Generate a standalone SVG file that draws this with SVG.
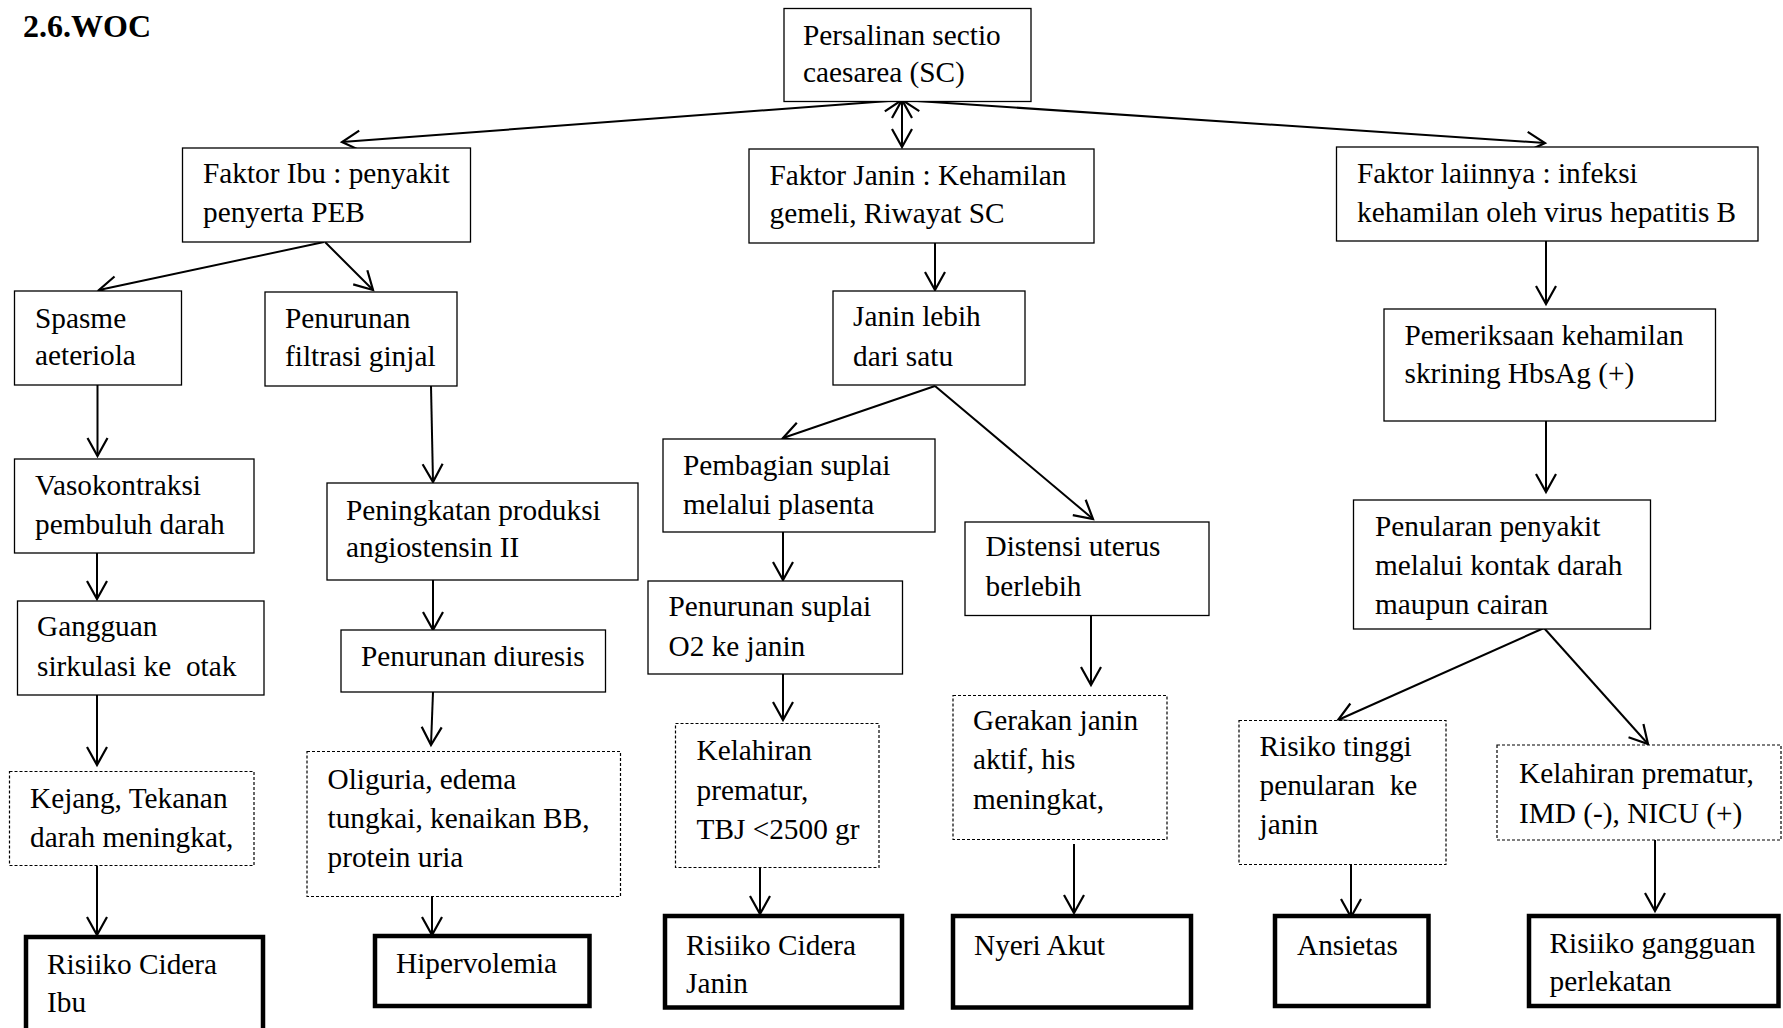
<svg xmlns="http://www.w3.org/2000/svg" width="1783" height="1028" viewBox="0 0 1783 1028">
<style>
text{font-family:"Liberation Serif","Times New Roman",serif;font-size:29.3px;fill:#000;white-space:pre}
.title{font-weight:bold;font-size:32px}
.box{fill:#fff;stroke:#000;stroke-width:1.3}
.dash{fill:#fff;stroke:#000;stroke-width:1.2;stroke-dasharray:3 2}
.thick{fill:#fff;stroke:#000;stroke-width:4.5}
.c{fill:none;stroke:#000;stroke-width:2}
</style>
<defs>
<marker id="ah" markerUnits="userSpaceOnUse" markerWidth="24" markerHeight="24" viewBox="-20 -12 24 24" refX="0" refY="0" orient="auto-start-reverse">
<path d="M-18,-10 L0,0 L-18,10" fill="none" stroke="#000" stroke-width="2.2"/>
</marker>
</defs>
<rect width="1783" height="1028" fill="#fff"/>
<text class="title" x="23" y="37">2.6.WOC</text>

<g id="connectors">
<line class="c" x1="902" y1="100" x2="342" y2="142" marker-start="url(#ah)" marker-end="url(#ah)"/>
<line class="c" x1="902" y1="100" x2="1545" y2="143" marker-start="url(#ah)" marker-end="url(#ah)"/>
<line class="c" x1="902" y1="100" x2="902" y2="147" marker-start="url(#ah)" marker-end="url(#ah)"/>
<line class="c" x1="324" y1="242" x2="99" y2="290" marker-end="url(#ah)"/>
<line class="c" x1="325" y1="242" x2="373" y2="290" marker-end="url(#ah)"/>
<line class="c" x1="935" y1="235" x2="935" y2="290" marker-end="url(#ah)"/>
<line class="c" x1="1546" y1="233" x2="1546" y2="304" marker-end="url(#ah)"/>
<line class="c" x1="97.5" y1="385" x2="97.5" y2="456" marker-end="url(#ah)"/>
<line class="c" x1="431" y1="386" x2="433" y2="482" marker-end="url(#ah)"/>
<line class="c" x1="935" y1="386" x2="783" y2="438" marker-end="url(#ah)"/>
<line class="c" x1="935" y1="386" x2="1093" y2="519" marker-end="url(#ah)"/>
<line class="c" x1="1546" y1="421" x2="1546" y2="492" marker-end="url(#ah)"/>
<line class="c" x1="97" y1="553" x2="97" y2="599" marker-end="url(#ah)"/>
<line class="c" x1="433" y1="571" x2="433" y2="630" marker-end="url(#ah)"/>
<line class="c" x1="783" y1="532" x2="783" y2="580" marker-end="url(#ah)"/>
<line class="c" x1="1544" y1="628" x2="1338" y2="720" marker-end="url(#ah)"/>
<line class="c" x1="1544" y1="628" x2="1648" y2="744" marker-end="url(#ah)"/>
<line class="c" x1="97" y1="695" x2="97" y2="765" marker-end="url(#ah)"/>
<line class="c" x1="433" y1="692" x2="431" y2="745" marker-end="url(#ah)"/>
<line class="c" x1="783" y1="672" x2="783" y2="720" marker-end="url(#ah)"/>
<line class="c" x1="1091" y1="614" x2="1091" y2="685" marker-end="url(#ah)"/>
<line class="c" x1="97" y1="866" x2="97" y2="935" marker-end="url(#ah)"/>
<line class="c" x1="432" y1="895" x2="432" y2="935" marker-end="url(#ah)"/>
<line class="c" x1="760" y1="865" x2="760" y2="914" marker-end="url(#ah)"/>
<line class="c" x1="1074" y1="844" x2="1074" y2="913" marker-end="url(#ah)"/>
<line class="c" x1="1351" y1="864" x2="1351" y2="917" marker-end="url(#ah)"/>
<line class="c" x1="1655" y1="840" x2="1655" y2="911" marker-end="url(#ah)"/>
</g>

<g id="persalinan"><rect class="box" x="784" y="8.5" width="247" height="93"/><text x="803" y="45">Persalinan sectio</text><text x="803" y="82">caesarea (SC)</text></g>
<g id="faktor-ibu"><rect class="box" x="182.5" y="148" width="288" height="94"/><text x="203" y="183">Faktor Ibu : penyakit</text><text x="203" y="222">penyerta PEB</text></g>
<g id="faktor-janin"><rect class="box" x="749" y="149" width="345" height="94"/><text x="769.5" y="185">Faktor Janin : Kehamilan</text><text x="769.5" y="223">gemeli, Riwayat SC</text></g>
<g id="faktor-lain"><rect class="box" x="1336.5" y="147" width="421.5" height="94"/><text x="1357" y="183">Faktor laiinnya : infeksi</text><text x="1357" y="222">kehamilan oleh virus hepatitis B</text></g>
<g id="spasme"><rect class="box" x="14.5" y="291" width="167" height="94"/><text x="35" y="328">Spasme</text><text x="35" y="365">aeteriola</text></g>
<g id="filtrasi"><rect class="box" x="265" y="292" width="192" height="94"/><text x="285" y="328">Penurunan</text><text x="285" y="366">filtrasi ginjal</text></g>
<g id="janin-lebih"><rect class="box" x="833" y="291" width="192" height="94"/><text x="853" y="326">Janin lebih</text><text x="853" y="366">dari satu</text></g>
<g id="pemeriksaan"><rect class="box" x="1384" y="309" width="331.5" height="112"/><text x="1404.5" y="345">Pemeriksaan kehamilan</text><text x="1404.5" y="383">skrining HbsAg (+)</text></g>
<g id="vasokontraksi"><rect class="box" x="14.5" y="459" width="239.5" height="94"/><text x="35" y="495">Vasokontraksi</text><text x="35" y="534">pembuluh darah</text></g>
<g id="peningkatan"><rect class="box" x="327" y="483" width="311" height="97"/><text x="346" y="520">Peningkatan produksi</text><text x="346" y="557">angiostensin II</text></g>
<g id="pembagian"><rect class="box" x="663" y="439" width="272" height="93"/><text x="683" y="475">Pembagian suplai</text><text x="683" y="514">melalui plasenta</text></g>
<g id="distensi"><rect class="box" x="965" y="522" width="244" height="93.5"/><text x="985.5" y="556">Distensi uterus</text><text x="985.5" y="596">berlebih</text></g>
<g id="penularan"><rect class="box" x="1353.5" y="500" width="297" height="129"/><text x="1375" y="536">Penularan penyakit</text><text x="1375" y="575">melalui kontak darah</text><text x="1375" y="614">maupun cairan</text></g>
<g id="suplai-o2"><rect class="box" x="648" y="581" width="254.5" height="93"/><text x="668.5" y="616">Penurunan suplai</text><text x="668.5" y="655.5">O2 ke janin</text></g>
<g id="gangguan"><rect class="box" x="17.5" y="601" width="246.5" height="94"/><text x="37" y="636">Gangguan</text><text x="37" y="676">sirkulasi ke  otak</text></g>
<g id="diuresis"><rect class="box" x="341" y="630" width="264.5" height="62"/><text x="361" y="666">Penurunan diuresis</text></g>
<g id="kejang"><rect class="dash" x="9.5" y="771.5" width="244.5" height="94"/><text x="30" y="808">Kejang, Tekanan</text><text x="30" y="846.5">darah meningkat,</text></g>
<g id="oliguria"><rect class="dash" x="307" y="751.5" width="313.5" height="145"/><text x="327.5" y="788.5">Oliguria, edema</text><text x="327.5" y="827.5">tungkai, kenaikan BB,</text><text x="327.5" y="866.5">protein uria</text></g>
<g id="kelahiran-tbj"><rect class="dash" x="675.5" y="723.5" width="203.5" height="144"/><text x="696.5" y="760">Kelahiran</text><text x="696.5" y="800">prematur,</text><text x="696.5" y="838.5">TBJ &lt;2500 gr</text></g>
<g id="gerakan"><rect class="dash" x="953" y="695.5" width="214" height="144"/><text x="973" y="730">Gerakan janin</text><text x="973" y="769">aktif, his</text><text x="973" y="808.5">meningkat,</text></g>
<g id="risiko-tinggi"><rect class="dash" x="1239" y="720.5" width="207" height="144"/><text x="1259.5" y="756">Risiko tinggi</text><text x="1259.5" y="795">penularan  ke</text><text x="1259.5" y="834">janin</text></g>
<g id="kelahiran-imd"><rect class="dash" x="1497" y="745" width="284" height="95"/><text x="1519" y="782.5">Kelahiran prematur,</text><text x="1519" y="822.5">IMD (-), NICU (+)</text></g>
<g id="cidera-ibu"><rect class="thick" x="26" y="937" width="237" height="100"/><text x="47" y="973.5">Risiiko Cidera</text><text x="47" y="1012">Ibu</text></g>
<g id="hipervolemia"><rect class="thick" x="375" y="936" width="214.5" height="70"/><text x="396" y="972.5">Hipervolemia</text></g>
<g id="cidera-janin"><rect class="thick" x="665" y="916" width="237" height="91.5"/><text x="686" y="954.5">Risiiko Cidera</text><text x="686" y="992.5">Janin</text></g>
<g id="nyeri"><rect class="thick" x="953" y="916" width="238" height="91.5"/><text x="974" y="954.5">Nyeri Akut</text></g>
<g id="ansietas"><rect class="thick" x="1275" y="916" width="153.5" height="90"/><text x="1297" y="954.5">Ansietas</text></g>
<g id="perlekatan"><rect class="thick" x="1529" y="916" width="249.5" height="90"/><text x="1549.5" y="952.5">Risiiko gangguan</text><text x="1549.5" y="990.5">perlekatan</text></g>
</svg>
